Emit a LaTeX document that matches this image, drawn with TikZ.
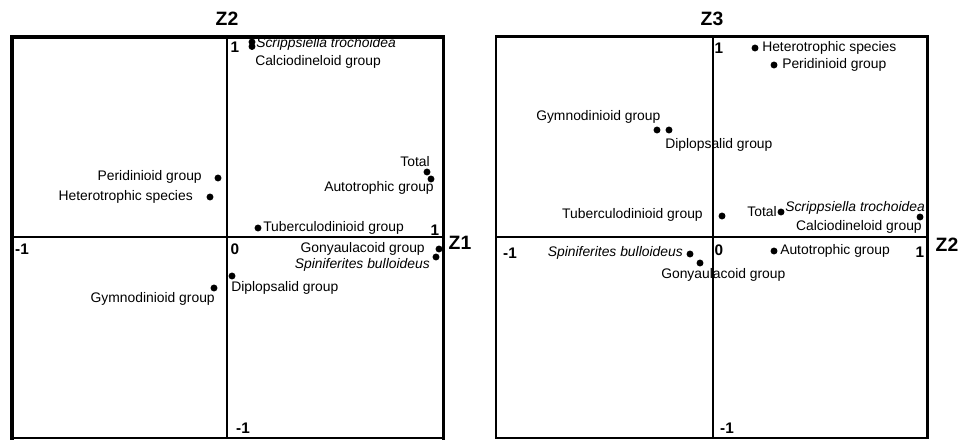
\documentclass[tikz,border=0pt]{standalone}
\usepackage{fontspec}
\setmainfont{Liberation Sans}
\begin{document}
\begin{tikzpicture}
[x=0.75pt,y=-0.75pt,
  dotdecorate/.style={shape=circle,inner sep=0pt,minimum size=5.2pt,fill=black},%
  labeldecorate/.style={inner sep=0pt,font=\fontsize{10.4pt}{12pt}\selectfont},%
  ticklabel/.style={inner sep=0pt,font=\fontsize{11.5pt}{13pt}\selectfont\bfseries},%
  axistitle/.style={inner sep=0pt,font=\fontsize{14.5pt}{16pt}\selectfont\bfseries},%
  frameline/.style={line width=2.8pt,line cap=rect},%
  axisline/.style={line width=1.9pt}]
\useasboundingbox (0,0) rectangle (960,439);
%% frames and axes
\draw[frameline] (12,438) -- (12,37) -- (443.5,37) -- (443.5,438);
\draw[line width=0.8pt] (12,438) -- (443.5,438);
\draw[axisline] (227,37) -- (227,438);
\draw[axisline] (12,237) -- (443.5,237);
\draw[frameline,line width=2.1pt] (496,438) -- (496,36.5) -- (927.5,36.5) -- (927.5,438);
\draw[line width=0.8pt] (496,438) -- (927.5,438);
\draw[axisline] (713,36.5) -- (713,438);
\draw[axisline] (496,237) -- (927.5,237);
%% titles and ticks
\foreach \nodename/\x/\y/\txt in {tZtwoL/227/19/Z2, tZoneL/460/243/Z1, tZthreeR/712/19/Z3, tZtwoR/947/245/Z2} {
  \node (\nodename) at (\x,\y) [axistitle] {\txt};
}
\foreach \nodename/\x/\y/\txt in {kTopL/235/47/1, kRightL/435/230/1, kLeftL/22/249/-1, kZeroL/235/249/0, kBotL/243/428/-1,
  kTopR/719/48/1, kRightR/920/252/1, kLeftR/510/253/-1, kZeroR/719/250/0, kBotR/727/428/-1} {
  \node (\nodename) at (\x,\y) [ticklabel] {\txt};
}
%% points
\foreach \nodename/\x/\y in {sTroL/252/42, calcL/252/46.5, totalL/427/172, autoL/431/179, periL/218/178,
  heteL/210/197, tuberL/258/228, gonyL/439/249, spinL/436/257, diplL/232/276, gymnL/214/288,
  heteR/755/48, periR/774/65, gymnR/657/130, diplR/669/130, tuberR/722/216, totalR/781/212,
  calcR/920/217, spinR/690/254, gonyR/700/263, autoR/774/251} {
  \node (\nodename) at (\x,\y) [dotdecorate] {};
}
%% labels
\foreach \nodename/\x/\y/\anc/\txt in {
  lsTroL/256/44/mid west/{\itshape Scrippsiella trochoidea},
  lcalcL/255/62/mid west/Calciodineloid group,
  ltotalL/430/163/mid east/Total,
  lautoL/434/188/mid east/Autotrophic group,
  lperiL/202/177/mid east/Peridinioid group,
  lheteL/193/197/mid east/Heterotrophic species,
  ltuberL/263/228/mid west/Tuberculodinioid group,
  lgonyL/425/249/mid east/Gonyaulacoid group,
  lspinL/430/265/mid east/{\itshape Spiniferites bulloideus},
  ldiplL/231/288/mid west/Diplopsalid group,
  lgymnL/215/299/mid east/Gymnodinioid group,
  lheteR/762/48/mid west/Heterotrophic species,
  lperiR/782/65/mid west/Peridinioid group,
  lgymnR/536/117/mid west/Gymnodinioid group,
  ldiplR/665/145/mid west/Diplopsalid group,
  ltuberR/703/215/mid east/Tuberculodinioid group,
  ltotalR/777/213/mid east/Total,
  lsTroR/785/208/mid west/{\itshape Scrippsiella trochoidea},
  lcalcR/922/227/mid east/Calciodineloid group,
  lspinR/683/253/mid east/{\itshape Spiniferites bulloideus},
  lgonyR/661/275/mid west/Gonyaulacoid group,
  lautoR/780/251/mid west/Autotrophic group} {
  \node (\nodename) at (\x,\y) [labeldecorate,anchor=\anc] {\txt};
}
\end{tikzpicture}
\end{document}
